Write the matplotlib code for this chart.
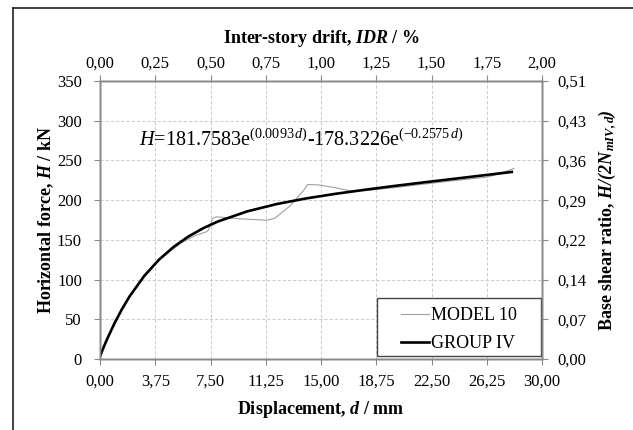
import matplotlib
matplotlib.use("Agg")
import matplotlib.pyplot as plt
from matplotlib.lines import Line2D
from matplotlib.patches import Rectangle

plt.rcParams['font.family'] = ['Liberation Serif', 'DejaVu Serif']
plt.rcParams['mathtext.fontset'] = 'custom'
plt.rcParams['mathtext.rm'] = 'Liberation Serif'
plt.rcParams['mathtext.it'] = 'Liberation Serif:italic'
plt.rcParams['mathtext.bf'] = 'Liberation Serif:bold'
plt.rcParams['mathtext.bfit'] = 'Liberation Serif:italic:bold'

# GROUP IV fitted curve
group_d = [0, 0.25, 0.5, 1, 1.5, 2, 3, 4, 5, 6, 7, 8, 10, 12, 14, 16, 18, 20, 22, 24, 26, 27.95]
group_h = [3.4, 15.0, 25.8, 45.6, 63.1, 78.6, 104.5, 125.0, 141.2, 154.2, 164.6, 173.1,
           185.9, 195.1, 202.2, 208.0, 213.1, 217.9, 222.4, 226.8, 231.2, 235.5]

# MODEL 10 curve
model_d = [0, 0.25, 0.5, 1, 1.5, 2, 3, 4, 4.75, 5.5, 6.5, 7.2, 7.35, 7.65, 7.9, 9.3, 10.5,
           11.3, 11.85, 12.9, 13.8, 14.1, 14.9, 16.0, 17.0, 18.0, 20, 22, 24, 26.25, 27.0, 28.1]
model_h = [0, 15, 25.8, 45.6, 63.1, 78.6, 104.5, 124.5, 135.5, 146, 155.7, 160, 162, 177, 179,
           176.8, 175.5, 174.7, 177, 192.8, 211.8, 219.8, 219, 215.5, 211.8, 212, 215.8,
           220.2, 224.5, 229, 232.5, 240]

d_ticks = [0, 3.75, 7.5, 11.25, 15, 18.75, 22.5, 26.25, 30]
d_labels = ['0,00', '3,75', '7,50', '11,25', '15,00', '18,75', '22,50', '26,25', '30,00']
idr_labels = ['0,00', '0,25', '0,50', '0,75', '1,00', '1,25', '1,50', '1,75', '2,00']
h_ticks = [0, 50, 100, 150, 200, 250, 300, 350]
ratio_labels = ['0,00', '0,07', '0,14', '0,22', '0,29', '0,36', '0,43', '0,51']

spine_col = '#898989'
tick_fs = 12
lab_fs = 13

fig = plt.figure(figsize=(6.33, 4.30), dpi=100)
ax = fig.add_axes([100 / 633, 1 - 359 / 430, 442 / 633, 278 / 430])

ax.plot(model_d, model_h, color='#a0a0a0', lw=0.8, label='MODEL 10', zorder=3)
ax.plot(group_d, group_h, color='black', lw=1.9, label='GROUP IV', zorder=4)

ax.set_xlim(0, 30)
ax.set_ylim(0, 350)
ax.set_xticks(d_ticks)
ax.set_xticklabels(d_labels)
ax.set_yticks(h_ticks)
ax.grid(True, color='#cccccc', linestyle=(0, (3, 2)), linewidth=0.75)
ax.set_axisbelow(True)
ax.set_xlabel(r'Displacement, $\mathbfit{d}$ / mm', fontsize=lab_fs, fontweight='bold', labelpad=7)
ax.set_ylabel(r'Horizontal force, $\mathbfit{H}$ / kN', fontsize=lab_fs, fontweight='bold', labelpad=0.5)

ax_r = ax.twinx()
ax_r.set_ylim(0, 350)
ax_r.set_yticks(h_ticks)
ax_r.set_yticklabels(ratio_labels)
ax_r.set_ylabel(r'Base shear ratio, $\mathbfit{H/(2N_{mIV,d})}$', fontsize=lab_fs,
                fontweight='bold', labelpad=7.5)

ax_t = ax.twiny()
ax_t.set_xlim(0, 30)
ax_t.set_xticks(d_ticks)
ax_t.set_xticklabels(idr_labels)
ax_t.set_xlabel(r'Inter-story drift, $\mathbfit{IDR}$ / %', fontsize=lab_fs,
                fontweight='bold', labelpad=9)

for a in (ax, ax_r, ax_t):
    for s in a.spines.values():
        s.set_color(spine_col)
        s.set_linewidth(1.0)
    a.tick_params(colors=spine_col, labelcolor='black', labelsize=tick_fs, length=4,
                  width=0.8, direction='out')
ax.tick_params(axis='y', pad=9)
ax.tick_params(axis='x', pad=6.5)
ax_r.tick_params(axis='y', pad=7)
ax_t.tick_params(axis='x', pad=3)

ax.text(2.65, 268, r'$\mathit{H}$=181.7583e$^{(0.0093\,\mathit{d})}$-178.3226e$^{(-0.2575\,\mathit{d})}$',
        fontsize=14.5, va='baseline', ha='left')

box = Rectangle((0.627, 0.011), 0.3705, 0.208, transform=ax.transAxes,
                facecolor='white', edgecolor='#444444', lw=1.0, zorder=5)
ax.add_patch(box)
leg = ax.legend(loc='center left', bbox_to_anchor=(0.68, 0.106), frameon=False,
                fontsize=lab_fs, handlelength=1.6, handletextpad=0.1, labelspacing=0.62,
                borderpad=0, borderaxespad=0)
leg.set_zorder(6)

# outer frame (left and top edges)
fig.add_artist(Line2D([13 / 633, 13 / 633], [0, 1 - 7.5 / 430], color='#222222', lw=1.2))
fig.add_artist(Line2D([13 / 633, 1], [1 - 7.5 / 430, 1 - 7.5 / 430], color='#222222', lw=1.2))

fig.savefig('out.png', dpi=100)
